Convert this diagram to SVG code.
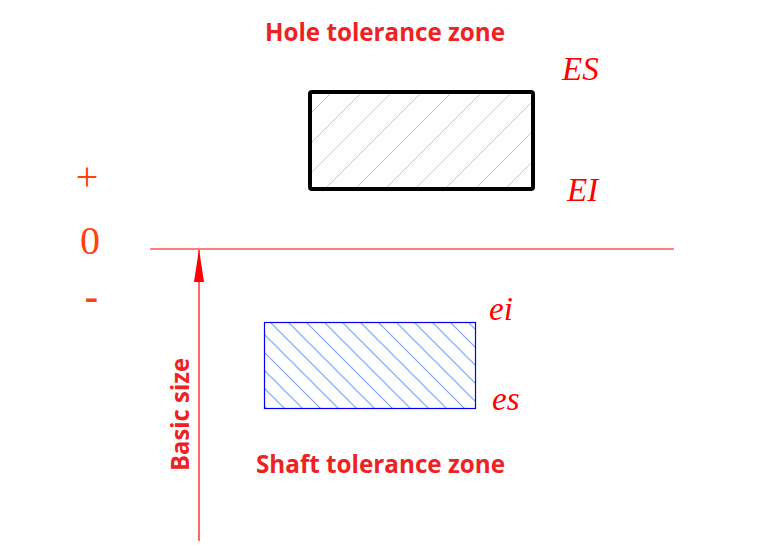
<svg xmlns="http://www.w3.org/2000/svg" width="768" height="548" viewBox="0 0 768 548">
<style>
.title{font-family:"Open Sans","Liberation Sans",sans-serif;font-weight:bold;font-size:25px;fill:#ee2222}
.lab{font-family:"Liberation Serif",serif;font-style:italic;font-size:33px;fill:#ff0000}
.sign{font-family:"Liberation Serif",serif;fill:#ff4010;font-size:40px}
</style>
<defs>
<pattern id="hatchHole" patternUnits="userSpaceOnUse" x="4" y="0" width="30" height="30">
<path d="M0,30 L30,0 M-15,15 L15,-15 M15,45 L45,15" stroke="#c8c8c8" stroke-width="1"/>
</pattern>
<pattern id="hatchShaft" patternUnits="userSpaceOnUse" x="2" y="0" width="18" height="18">
<path d="M0,0 L18,18 M-9,9 L9,27 M9,-9 L27,9" stroke="#80a4f0" stroke-width="1.2"/>
</pattern>
</defs>
<rect width="768" height="548" fill="#ffffff"/>
<g id="hole-zone">
<rect x="310" y="92" width="223" height="97" fill="url(#hatchHole)"/>
<rect x="310" y="92" width="223" height="97" fill="none" stroke="#000" stroke-width="4" rx="2"/>
<text class="title" x="265" y="41" textLength="240" lengthAdjust="spacingAndGlyphs">Hole tolerance zone</text>
<text class="lab" x="562" y="80">ES</text>
<text class="lab" x="567" y="201">EI</text>
</g>
<g id="shaft-zone">
<rect x="264" y="322" width="212" height="87" fill="url(#hatchShaft)"/>
<rect x="264.5" y="322.5" width="211" height="86" fill="none" stroke="#0000ff" stroke-width="1.2"/>
<text class="title" x="256" y="473" textLength="249" lengthAdjust="spacingAndGlyphs">Shaft tolerance zone</text>
<text class="lab" x="489" y="320">ei</text>
<text class="lab" x="492" y="410">es</text>
</g>
<g id="signs">
<text class="sign" x="87" y="190" text-anchor="middle">+</text>
<text class="sign" x="90" y="254" text-anchor="middle">0</text>
<text class="sign" x="91.5" y="310" text-anchor="middle" font-weight="bold">-</text>
</g>
<g id="connectors">
<line x1="150" y1="249" x2="674" y2="249" stroke="#ff0000" stroke-width="1.2"/>
<line x1="199" y1="250" x2="199" y2="541" stroke="#ff0000" stroke-width="1.2"/>
<polygon points="199,249 204,282 194,282" fill="#ff0000"/>
</g>
<g id="basic-size">
<text class="title" transform="translate(189,471) rotate(-90)" textLength="113" lengthAdjust="spacingAndGlyphs">Basic size</text>
</g>
</svg>
